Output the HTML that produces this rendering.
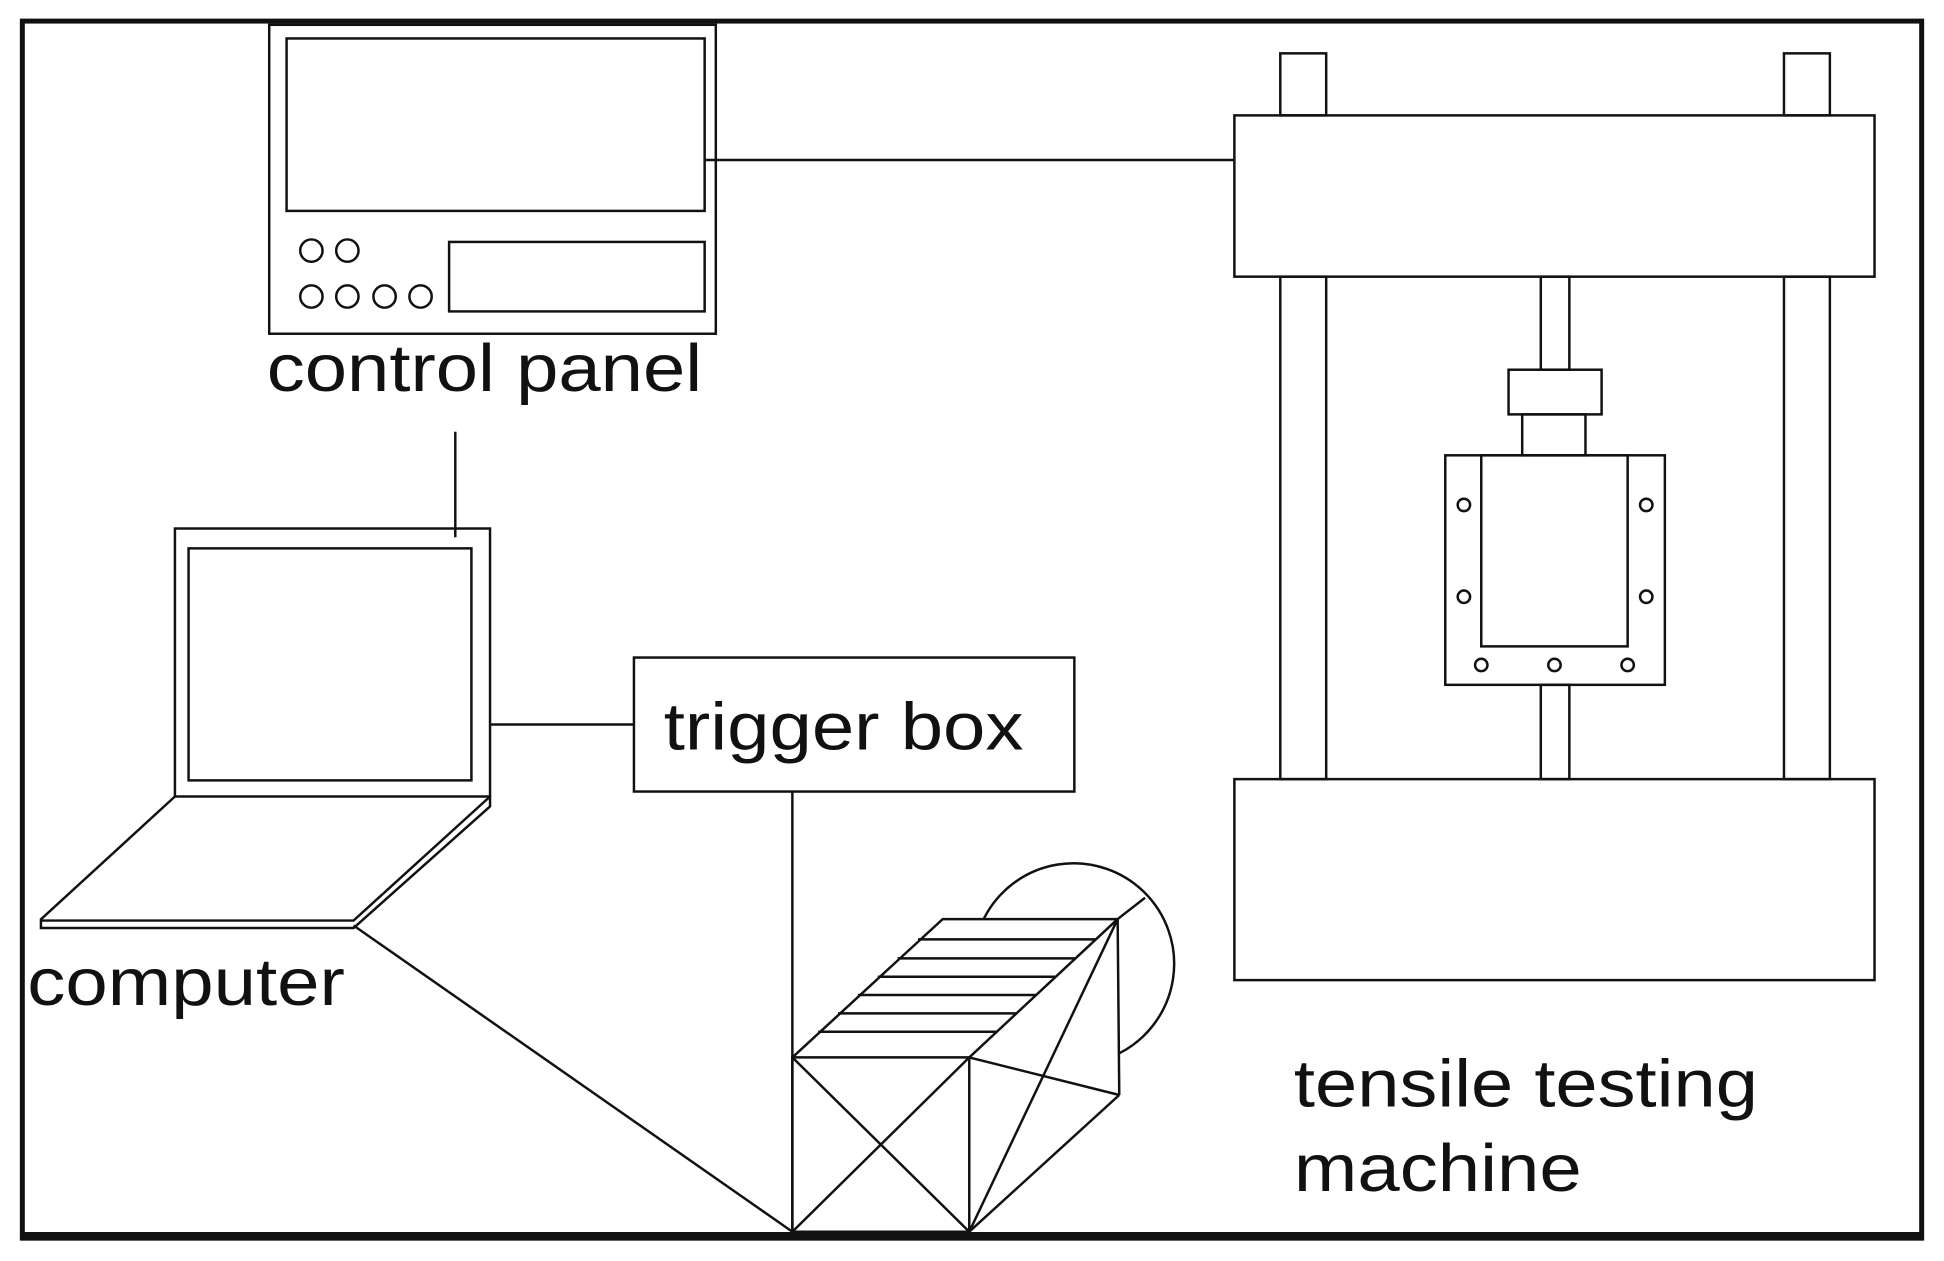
<!DOCTYPE html>
<html><head><style>html,body{margin:0;padding:0;background:#fff}svg{display:block}</style></head>
<body>
<svg width="1944" height="1261" viewBox="0 0 1567 1016.4" preserveAspectRatio="none" xmlns="http://www.w3.org/2000/svg">
<g fill="none" stroke="#111" stroke-width="2">
<rect x="18" y="17" width="1531" height="981" stroke-width="4"/>
<line x1="18" y1="996" x2="1549" y2="996" stroke-width="6"/>
<!-- control panel -->
<rect x="217" y="20" width="360" height="249"/>
<rect x="231" y="31" width="337" height="139"/>
<rect x="362" y="195" width="206" height="56"/>
<circle cx="251" cy="202" r="9"/><circle cx="280" cy="202" r="9"/>
<circle cx="251" cy="239" r="9"/><circle cx="280" cy="239" r="9"/><circle cx="310" cy="239" r="9"/><circle cx="339" cy="239" r="9"/>
<line x1="568" y1="129" x2="995" y2="129"/>
<line x1="367" y1="348" x2="367" y2="433"/>
<!-- laptop -->
<rect x="141" y="426" width="254" height="216"/>
<rect x="152" y="442" width="228" height="187"/>
<path d="M141 642 L33 741 L33 748 L285 748 L395 650 L395 642 M33 742 L285 742 L395 642"/>
<line x1="395" y1="584" x2="511" y2="584"/>
<rect x="511" y="530" width="355" height="108"/>
<!-- connectors to camera -->
<line x1="638.7" y1="638" x2="638.7" y2="993"/>
<line x1="285" y1="746" x2="638.7" y2="992.8"/>
<!-- camera -->
<path d="M793.2 740.2 A81 81 0 1 1 902.2 849"/>
<line x1="900.9" y1="740.8" x2="923" y2="723.6"/>
<path d="M638.7 852.3 L781.3 852.3 L781.3 992.8 L638.7 992.8 Z"/>
<path d="M638.7 852.3 L759.9 740.8 L900.9 740.8 L781.3 852.3"/>
<line x1="638.7" y1="852.3" x2="781.3" y2="992.8"/>
<line x1="781.3" y1="852.3" x2="638.7" y2="992.8"/>
<line x1="900.9" y1="740.8" x2="902.2" y2="882.6"/>
<line x1="781.3" y1="992.8" x2="900.9" y2="740.8"/>
<line x1="781.3" y1="992.8" x2="902.2" y2="882.6"/>
<line x1="781.3" y1="852.3" x2="902.2" y2="882.6"/>
<line x1="740" y1="757.2" x2="883" y2="757.2"/>
<line x1="723.5" y1="772.5" x2="866.5" y2="772.5"/>
<line x1="707.5" y1="787.3" x2="850.5" y2="787.3"/>
<line x1="691.5" y1="802" x2="834.8" y2="802"/>
<line x1="675.5" y1="816.8" x2="819" y2="816.8"/>
<line x1="659.5" y1="831.6" x2="803.5" y2="831.6"/>
<!-- machine -->
<rect x="1032" y="43" width="37" height="50"/>
<rect x="1438" y="43" width="37" height="50"/>
<rect x="995" y="93" width="516" height="130"/>
<rect x="1032" y="223" width="37" height="405"/>
<rect x="1438" y="223" width="37" height="405"/>
<rect x="1242" y="223" width="23" height="75"/>
<rect x="1216" y="298" width="75" height="36"/>
<rect x="1227" y="334" width="51" height="33"/>
<rect x="1165" y="367" width="177" height="185"/>
<rect x="1194" y="367" width="118" height="154"/>
<circle cx="1180" cy="407" r="5"/><circle cx="1327" cy="407" r="5"/>
<circle cx="1180" cy="481" r="5"/><circle cx="1327" cy="481" r="5"/>
<circle cx="1194" cy="536" r="5"/><circle cx="1253" cy="536" r="5"/><circle cx="1312" cy="536" r="5"/>
<rect x="1242" y="552" width="23" height="76"/>
<rect x="995" y="628" width="516" height="162"/>
</g>
<g font-family="Liberation Sans, Arial, sans-serif" font-size="54" fill="#111">
<text x="215" y="315" textLength="351" lengthAdjust="spacingAndGlyphs">control panel</text>
<text x="22" y="810" textLength="256" lengthAdjust="spacingAndGlyphs">computer</text>
<text x="535" y="604" textLength="290" lengthAdjust="spacingAndGlyphs">trigger box</text>
<text x="1043" y="892" textLength="374" lengthAdjust="spacingAndGlyphs">tensile testing</text>
<text x="1043" y="960" textLength="232" lengthAdjust="spacingAndGlyphs">machine</text>
</g>
</svg>
</body></html>
